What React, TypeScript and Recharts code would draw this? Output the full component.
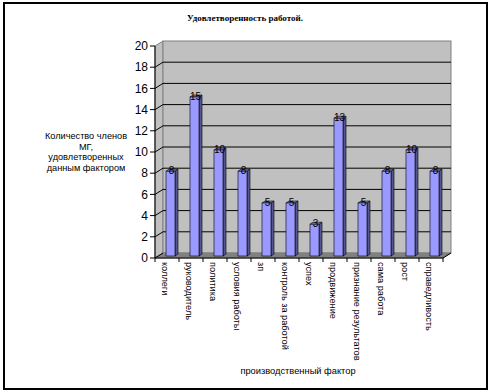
import React from 'react';
import { BarChart, Bar, XAxis, YAxis, ReferenceArea, LabelList } from 'recharts';

const categories = [
  'коллеги',
  'руководитель',
  'политика',
  'условия работы',
  'зп',
  'контроль за работой',
  'успех',
  'продвижение',
  'признание результатов',
  'сама работа',
  'рост',
  'справедливость',
];
const values = [8, 15, 10, 8, 5, 5, 3, 13, 5, 8, 10, 8];
const yTicks = [0, 2, 4, 6, 8, 10, 12, 14, 16, 18, 20];
const yLabelLines = ['Количество членов', 'МГ,', 'удовлетворенных', 'данным фактором'];
const title = 'Удовлетворенность работой.';
const xTitle = 'производственный фактор';

const data = categories.map((name, i) => ({ name, value: values[i] }));

const DX = 8;
const DY = 5;
const AX = 'Liberation Sans, Arial, sans-serif';
const Y_MIN = yTicks[0];
const Y_MAX = yTicks[yTicks.length - 1];

const Walls = (p: any) => {
  const { x, y, width: w, height: h } = p;
  const b = y + h;
  const pos = (v: number) => b - ((v - Y_MIN) / (Y_MAX - Y_MIN)) * h;
  return (
    <g>
      <polygon
        points={`${x},${y} ${x + DX},${y - DY} ${x + DX},${b - DY} ${x},${b}`}
        fill="#c0c0c0"
        stroke="#808080"
      />
      <rect x={x + DX} y={y - DY} width={w} height={h} fill="#c0c0c0" stroke="#808080" />
      <polygon
        points={`${x},${b} ${x + DX},${b - DY} ${x + w + DX},${b - DY} ${x + w},${b}`}
        fill="#808080"
        stroke="#808080"
      />
      {yTicks.map((v) => {
        const yy = pos(v);
        if (v === Y_MAX) return null;
        return (
          <g key={v}>
            <line x1={x} y1={yy} x2={x + DX} y2={yy - DY} stroke="#000" strokeWidth={1} />
            {v !== Y_MIN && (
              <line x1={x + DX} y1={yy - DY} x2={x + w + DX} y2={yy - DY} stroke="#000" strokeWidth={1} />
            )}
          </g>
        );
      })}
      <line x1={x + w} y1={b} x2={x + w + DX} y2={b - DY} stroke="#000" strokeWidth={1} />
    </g>
  );
};

const Bar3D = (p: any) => {
  const { x, y, width: w, height: h } = p;
  const bx = x + 3;
  const by = y - 2;
  const d = 3;
  const dd = 2;
  const b = by + h;
  return (
    <g>
      <polygon
        points={`${bx + w},${by} ${bx + w + d},${by - dd} ${bx + w + d},${b - dd} ${bx + w},${b}`}
        fill="#55558f"
        stroke="#000"
        strokeWidth={0.6}
      />
      <polygon
        points={`${bx},${by} ${bx + d},${by - dd} ${bx + w + d},${by - dd} ${bx + w},${by}`}
        fill="#8080d8"
        stroke="#000"
        strokeWidth={0.6}
      />
      <rect x={bx} y={by} width={w} height={h} fill="#9999ff" stroke="#000" strokeWidth={0.6} />
    </g>
  );
};

const ValueLabel = (p: any) => {
  const { x, y, width: w, value } = p;
  return (
    <text
      x={x + w / 2 + 4}
      y={y + 0.5}
      textAnchor="middle"
      fontFamily={AX}
      fontSize={10}
      fill="#000"
    >
      {value}
    </text>
  );
};

const XTick = (p: any) => {
  const { x, y, payload, index } = p;
  const half = 12;
  return (
    <g>
      {index === 0 && <line x1={x - half} y1={y} x2={x - half} y2={y + 4} stroke="#000" />}
      <line x1={x + half} y1={y} x2={x + half} y2={y + 4} stroke="#000" />
      <text
        transform={`translate(${x - 2},${y + 4}) rotate(90)`}
        textAnchor="start"
        dominantBaseline="central"
        fontFamily={AX}
        fontSize={9.2}
        fill="#000"
      >
        {payload.value}
      </text>
    </g>
  );
};

export default function App() {
  return (
    <div style={{ position: 'absolute', left: 0, top: 0, width: 491, height: 392, background: '#fff' }}>
      <div
        style={{
          position: 'absolute',
          left: 3,
          top: 2,
          width: 485,
          height: 388,
          border: '2px solid #000',
          boxSizing: 'border-box',
        }}
      />
      <BarChart
        width={491}
        height={392}
        data={data}
        margin={{ top: 46, right: 48, left: 0, bottom: 0 }}
        barCategoryGap={0}
      >
        <ReferenceArea y1={Y_MIN} y2={Y_MAX} shape={Walls} ifOverflow="visible" />
        <XAxis
          dataKey="name"
          interval={0}
          height={134}
          tickLine={false}
          tickSize={0}
          tickMargin={0}
          tick={XTick}
          axisLine={{ stroke: '#000' }}
        />
        <YAxis
          domain={[Y_MIN, Y_MAX]}
          ticks={yTicks}
          width={155}
          tickSize={5}
          tickMargin={2}
          interval={0}
          axisLine={{ stroke: '#000' }}
          tickLine={{ stroke: '#000' }}
          tick={{ fontFamily: AX, fontSize: 12, fill: '#000' }}
        />
        <Bar dataKey="value" barSize={9} shape={Bar3D} isAnimationActive={false}>
          <LabelList dataKey="value" content={ValueLabel} />
        </Bar>
      </BarChart>
      <svg
        width={491}
        height={392}
        style={{ position: 'absolute', left: 0, top: 0, pointerEvents: 'none' }}
      >
        <text
          x={245}
          y={21}
          textAnchor="middle"
          fontFamily="Liberation Serif, Times New Roman, serif"
          fontWeight="bold"
          fontSize={9}
          fill="#000"
        >
          {title}
        </text>
        {yLabelLines.map((t, i) => (
          <text
            key={t}
            x={86}
            y={139 + i * 10.5}
            textAnchor="middle"
            fontFamily={AX}
            fontSize={9.2}
            fill="#000"
          >
            {t}
          </text>
        ))}
        <text x={298} y={374} textAnchor="middle" fontFamily={AX} fontSize={9.3} fill="#000">
          {xTitle}
        </text>
      </svg>
    </div>
  );
}
